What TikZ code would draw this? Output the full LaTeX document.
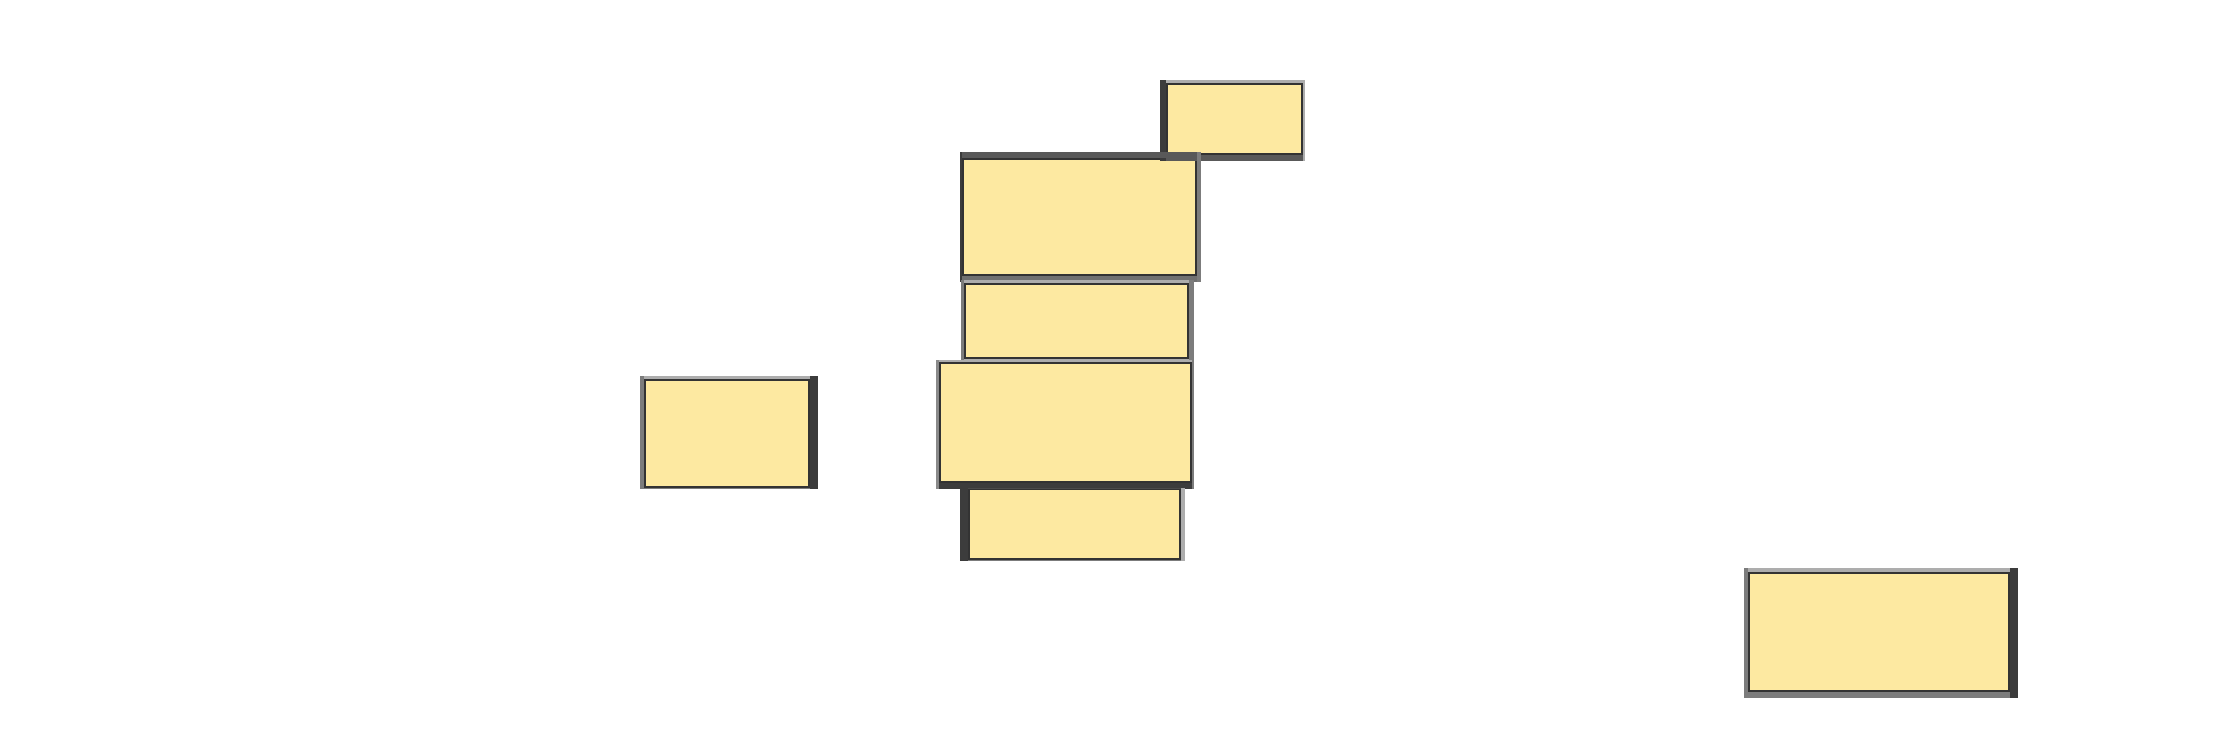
\documentclass[tikz,border=0pt]{standalone}
\usepackage{tikz}
\usetikzlibrary{positioning}

\definecolor{panelfill}{HTML}{FDE9A1}
\definecolor{edgedark}{HTML}{3C3C3C}
\definecolor{edgemid}{HTML}{7C7C7C}
\definecolor{edgelight}{HTML}{ADADAD}

\tikzset{
    panel/.style={rectangle, inner sep=0pt, anchor=north west, fill=panelfill, draw=black!80, line width=0.5pt}
}

% frame round a panel: name, left w/colour, top w/colour, right w/colour, bottom w/colour
\newcommand{\bevel}[9]{%
    \fill[#5] ([shift={(-#2,-#4)}]#1.north west) rectangle ([shift={(#6,0)}]#1.north east);
    \fill[#9] ([shift={(-#2,0)}]#1.south west) rectangle ([shift={(#6,#8)}]#1.south east);
    \fill[#3] ([shift={(-#2,-#4)}]#1.north west) rectangle ([shift={(0,#8)}]#1.south west);
    \fill[#7] ([shift={(0,-#4)}]#1.north east) rectangle ([shift={(#6,#8)}]#1.south east);
}

\begin{document}
\begin{tikzpicture}[x=0.01cm, y=-0.01cm]
    \useasboundingbox (0,0) rectangle (2223,739);

    \node [panel, minimum width=1.35cm, minimum height=0.70cm] (panelTop) at (1166,83) {};
    \node [panel, minimum width=2.33cm, minimum height=1.16cm] (panelUpper) at (962,158) {};
    \node [panel, minimum width=2.23cm, minimum height=0.74cm] (panelMiddle) at (964,283) {};
    \node [panel, minimum width=2.51cm, minimum height=1.19cm] (panelWide) at (939,362) {};
    \node [panel, minimum width=2.11cm, minimum height=0.70cm] (panelLower) at (968,488) {};
    \node [panel, minimum width=1.64cm, minimum height=1.07cm] (panelLeft) at (644,379) {};
    \node [panel, minimum width=2.60cm, minimum height=1.18cm] (panelRight) at (1748,572) {};

    \bevel{panelTop}{6}{edgedark}{3}{edgelight}{2}{edgelight}{6}{edgedark!85}
    \bevel{panelUpper}{2}{edgedark}{6}{edgedark!85}{4}{edgemid}{6}{edgemid!90!black}
    \bevel{panelMiddle}{3}{edgemid}{3}{edgelight}{5}{edgemid}{2}{edgelight}
    \bevel{panelWide}{3}{edgelight!80!black}{2}{edgelight}{2}{edgemid}{6}{edgedark}
    \bevel{panelLower}{8}{edgedark}{0}{edgelight}{4}{edgelight}{1}{edgemid}
    \bevel{panelLeft}{4}{edgemid}{3}{edgelight}{8}{edgedark}{1}{edgemid}
    \bevel{panelRight}{4}{edgemid}{4}{edgelight}{8}{edgedark}{6}{edgemid}
\end{tikzpicture}
\end{document}
